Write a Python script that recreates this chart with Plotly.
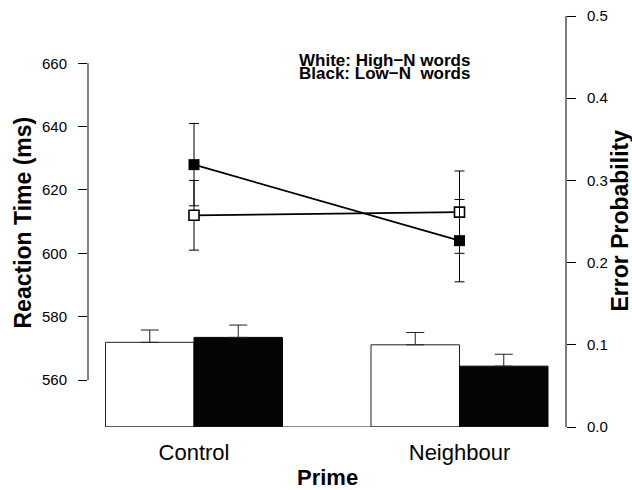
import plotly.graph_objects as go

# ---- data ----
primes = ["Control", "Neighbour"]
prime_pos = [1, 2]
# error probability (bars, right axis)
err_high = [0.103, 0.100]
err_high_se = [0.015, 0.015]
err_low = [0.109, 0.074]
err_low_se = [0.015, 0.0145]
# reaction time (lines, left axis)
rt_high = [612, 613]
rt_high_se = [11, 13]
rt_low = [628, 604]
rt_low_se = [13, 13]
rt_ticks = [560, 580, 600, 620, 640, 660]
ep_ticks = [0.0, 0.1, 0.2, 0.3, 0.4, 0.5]

W, H = 632, 490
ML, MR, MT, MB = 88, 66, 16, 63
PW, PH = W - ML - MR, H - MT - MB
FONT = "Liberation Sans, Arial, Helvetica, sans-serif"

def px(xp):
    return (xp - ML) / PW

def py(yp):
    return (H - MB - yp) / PH

fig = go.Figure()

fig.add_trace(go.Bar(
    x=prime_pos, y=err_high, yaxis="y2", name="High-N",
    marker=dict(color="white", line=dict(color="#222", width=1)),
    error_y=dict(type="data", symmetric=False, array=err_high_se,
                 arrayminus=[0] * len(err_high_se),
                 color="#222", thickness=1, width=9),
    showlegend=False,
))
fig.add_trace(go.Bar(
    x=prime_pos, y=err_low, yaxis="y2", name="Low-N",
    marker=dict(color="#050505", line=dict(color="#050505", width=1)),
    error_y=dict(type="data", symmetric=False, array=err_low_se,
                 arrayminus=[0] * len(err_low_se),
                 color="#222", thickness=1, width=9),
    showlegend=False,
))

fig.add_trace(go.Scatter(
    x=prime_pos, y=rt_high, yaxis="y", mode="lines+markers",
    line=dict(color="black", width=1.8),
    marker=dict(symbol="square", size=10, color="white",
                line=dict(color="black", width=1.6)),
    error_y=dict(type="data", array=rt_high_se, color="black",
                 thickness=1, width=5),
    showlegend=False,
))
fig.add_trace(go.Scatter(
    x=prime_pos, y=rt_low, yaxis="y", mode="lines+markers",
    line=dict(color="black", width=1.8),
    marker=dict(symbol="square", size=11, color="black",
                line=dict(color="black", width=0)),
    error_y=dict(type="data", array=rt_low_se, color="black",
                 thickness=1, width=5),
    showlegend=False,
))

# axis ranges so that the left and right axes line up with the reference
x0 = 1 - 106 / 265.5
x1 = x0 + PW / 265.5
yl_span = 100 / (py(63.3) - py(380))
yl0 = 560 - py(380) * yl_span
yl1 = yl0 + yl_span

shapes = [
    # left spine 560..660
    dict(type="line", xref="paper", yref="y", x0=0, x1=0,
         y0=rt_ticks[0], y1=rt_ticks[-1], line=dict(color="black", width=1)),
    # right spine 0..0.5
    dict(type="line", xref="paper", yref="y2", x0=1, x1=1,
         y0=ep_ticks[0], y1=ep_ticks[-1], line=dict(color="black", width=1)),
    # baseline under bars
    dict(type="line", xref="x", yref="y2", x0=prime_pos[0] - 1 / 3,
         x1=prime_pos[-1] + 1 / 3, y0=0, y1=0,
         line=dict(color="#222", width=1.2)),
]

annotations = [
    dict(text="<b>White: High\u2212N words</b>", x=px(297), y=py(60.5),
         xref="paper", yref="paper", xanchor="left", yanchor="middle",
         showarrow=False, font=dict(size=17, color="black", family=FONT)),
    dict(text="<b>Black: Low\u2212N\u00a0\u00a0words</b>", x=px(297), y=py(73),
         xref="paper", yref="paper", xanchor="left", yanchor="middle",
         showarrow=False, font=dict(size=17, color="black", family=FONT)),
    dict(text="<b>Reaction Time (ms)</b>", x=px(22), y=py(222.5),
         xref="paper", yref="paper", xanchor="center", yanchor="middle",
         textangle=-90, showarrow=False,
         font=dict(size=23, color="black", family=FONT)),
    dict(text="<b>Error Probability</b>", x=px(619), y=py(220.5),
         xref="paper", yref="paper", xanchor="center", yanchor="middle",
         textangle=-90, showarrow=False,
         font=dict(size=23, color="black", family=FONT)),
    dict(text="<b>Prime</b>", x=px(327), y=py(477),
         xref="paper", yref="paper", xanchor="center", yanchor="middle",
         showarrow=False, font=dict(size=22, color="black", family=FONT)),
]

fig.update_layout(
    width=W, height=H,
    margin=dict(l=ML, r=MR, t=MT, b=MB, pad=0, autoexpand=False),
    paper_bgcolor="white", plot_bgcolor="white",
    barmode="group", bargap=1 / 3, bargroupgap=0,
    font=dict(family=FONT, color="black"),
    xaxis=dict(range=[x0, x1], tickvals=prime_pos, ticktext=primes,
               showgrid=False, zeroline=False, showline=False, ticks="",
               tickfont=dict(size=22), ticklabelstandoff=10,
               automargin=False),
    yaxis=dict(range=[yl0, yl1], tickvals=rt_ticks, showgrid=False,
               zeroline=False, showline=False, ticks="outside", ticklen=9,
               tickwidth=1, tickcolor="black", tickfont=dict(size=15),
               ticklabelstandoff=8, automargin=False),
    yaxis2=dict(range=[0, 0.5], tickvals=ep_ticks,
                ticktext=[f"{v:.1f}" for v in ep_ticks],
                overlaying="y", side="right", showgrid=False,
                zeroline=False, showline=False, ticks="outside", ticklen=9,
                tickwidth=1, tickcolor="black", tickfont=dict(size=15),
                ticklabelstandoff=8, automargin=False),
    shapes=shapes, annotations=annotations,
)

fig.write_html("out.html",
               config={"displayModeBar": False},
               post_script="document.body.style.margin='0';"
                           "document.body.style.overflow='hidden';")
